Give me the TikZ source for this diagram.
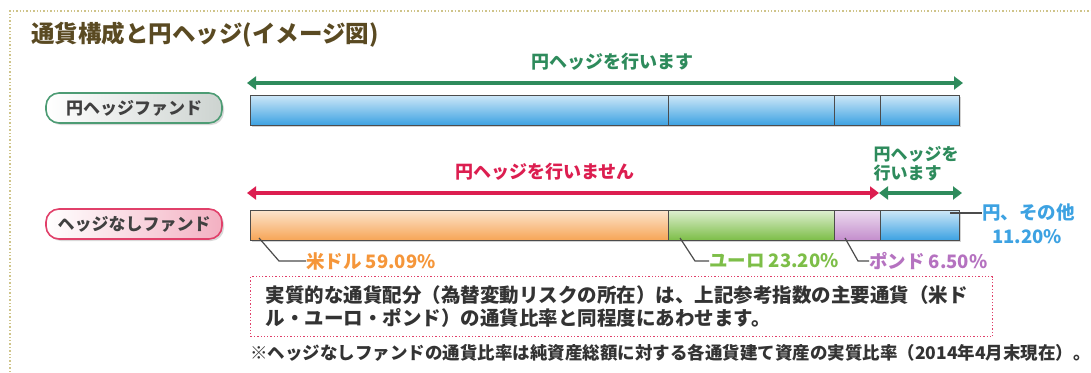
\documentclass[tikz,border=0pt]{standalone}
\usepackage{fontspec}
\setmainfont{Noto Sans CJK JP}
\usetikzlibrary{positioning,arrows.meta,shadows}

\definecolor{titlebrown}{HTML}{5A4A22}
\definecolor{hedgegreen}{HTML}{2E8B5C}
\definecolor{nohedgered}{HTML}{DC1E50}
\definecolor{framedot}{HTML}{CFC48A}
\definecolor{usdcol}{HTML}{F5963A}
\definecolor{eurcol}{HTML}{7DBE48}
\definecolor{gbpcol}{HTML}{B572C0}
\definecolor{jpycol}{HTML}{3DA2E2}
\definecolor{notered}{HTML}{E0406A}

\tikzset{
  seg/.style={draw=black!70, line width=1pt, minimum height=30pt, inner sep=0pt, outer sep=0pt,
    drop shadow={shadow xshift=2pt, shadow yshift=-2pt, opacity=0.35}},
  jpyseg/.style={seg, top color=jpycol!25, bottom color=jpycol},
  usdseg/.style={seg, top color=usdcol!25, bottom color=usdcol!85},
  eurseg/.style={seg, top color=eurcol!25, bottom color=eurcol},
  gbpseg/.style={seg, top color=gbpcol!25, bottom color=gbpcol!80},
  pill/.style={rounded corners=13pt, line width=1.6pt, minimum width=176pt, minimum height=30pt,
    inner sep=0pt, font=\fontsize{17}{17}\selectfont\bfseries, text=black!75,
    drop shadow={shadow xshift=2pt, shadow yshift=-2pt, opacity=0.3}},
  hedge/.style={line width=4pt, hedgegreen},
  nohedge/.style={line width=4pt, nohedgered},
  arrowlabel/.style={font=\fontsize{18}{20}\selectfont\bfseries},
  leader/.style={draw=black!70, line width=1.2pt},
  pct/.style={font=\fontsize{18.5}{20}\selectfont\bfseries, anchor=west, inner sep=0pt},
}

\begin{document}
\begin{tikzpicture}[x=1pt, y=-1pt, >={Triangle[length=9pt,width=13pt]}]
  \useasboundingbox (0,0) rectangle (1091,372);
  % Frame
  \draw[framedot, dotted, line width=1.4pt] (10,372) -- (10,11) -- (1091,11);
  % Title
  \node[anchor=west, titlebrown, font=\fontsize{23.5}{24}\selectfont\bfseries, inner sep=0pt] (title) at (31,35) {通貨構成と円ヘッジ(イメージ図)};

  % Fund labels
  \node[pill, draw=hedgegreen!85, left color=white, right color=hedgegreen!20!gray!35] (hedgedfund) at (134,108) {円ヘッジファンド};
  \node[pill, draw=nohedgered!85, left color=white, right color=nohedgered!35] (unhedgedfund) at (134,224) {ヘッジなしファンド};

  % Hedged fund bar
  \node[jpyseg, minimum width=418pt, anchor=west] (hA) at (250,110) {};
  \node[jpyseg, minimum width=166pt, right=0pt of hA] (hB) {};
  \node[jpyseg, minimum width=46pt, right=0pt of hB] (hC) {};
  \node[jpyseg, minimum width=79pt, right=0pt of hC] (hD) {};

  % Unhedged fund bar
  \node[usdseg, minimum width=418pt, anchor=west] (usd) at (250,225) {};
  \node[eurseg, minimum width=166pt, right=0pt of usd] (eur) {};
  \node[gbpseg, minimum width=46pt, right=0pt of eur] (gbp) {};
  \node[jpyseg, minimum width=79pt, right=0pt of gbp] (jpy) {};

  % Hedge arrows
  \coordinate (topL) at (247,83);
  \coordinate (topR) at (963,83);
  \draw[hedge, <->] (topL) -- (topR);
  \node[arrowlabel, hedgegreen] (toplab) at (612,62) {円ヘッジを行います};

  \coordinate (redL) at (247,193);
  \coordinate (redR) at (879,193);
  \coordinate (grnR) at (962,193);
  \draw[nohedge, <->] (redL) -- (redR);
  \draw[hedge, <->] (redR) -- (grnR);
  \node[arrowlabel, nohedgered] (redlab) at (545,172) {円ヘッジを行いません};
  \node[arrowlabel, hedgegreen, align=left, font=\fontsize{17}{19}\selectfont\bfseries] (grnlab) at (916,164) {円ヘッジを\\行います};

  % Currency shares
  \node[pct, usdcol] (usdlab) at (306,261) {米ドル 59.09\%};
  \node[pct, eurcol] (eurlab) at (709,261) {ユーロ 23.20\%};
  \node[pct, gbpcol] (gbplab) at (869,261) {ポンド 6.50\%};
  \node[pct, jpycol] (jpylab) at (982,213) {円、その他};
  \node[pct, jpycol] (jpypct) at (992,237) {11.20\%};
  \coordinate (usdpt) at (259,238);
  \coordinate (eurpt) at (680,238);
  \coordinate (gbppt) at (845,238);
  \coordinate (jpypt) at (950,213);
  \draw[leader] (usdpt) -- (279,261) -- (usdlab.west);
  \draw[leader] (eurpt) -- (695,261) -- (eurlab.west);
  \draw[leader] (gbppt) -- (858,261) -- (gbplab.west);
  \draw[leader] (jpypt) -- (jpylab.west);

  % Note
  \node[draw=notered, dotted, line width=1.3pt, anchor=north west, minimum width=742pt, minimum height=60pt,
    text width=712pt, inner xsep=15pt, align=left, font=\fontsize{19.5}{23}\selectfont\bfseries, text=black!80] (note) at (250,276)
    {実質的な通貨配分（為替変動リスクの所在）は、上記参考指数の主要通貨（米ド\\ル・ユーロ・ポンド）の通貨比率と同程度にあわせます。};
  \node[anchor=west, inner sep=0pt, font=\fontsize{17.5}{18}\selectfont\bfseries, text=black!80] (footnote) at (250,353)
    {※ヘッジなしファンドの通貨比率は純資産総額に対する各通貨建て資産の実質比率（2014年4月末現在）。};
\end{tikzpicture}
\end{document}
